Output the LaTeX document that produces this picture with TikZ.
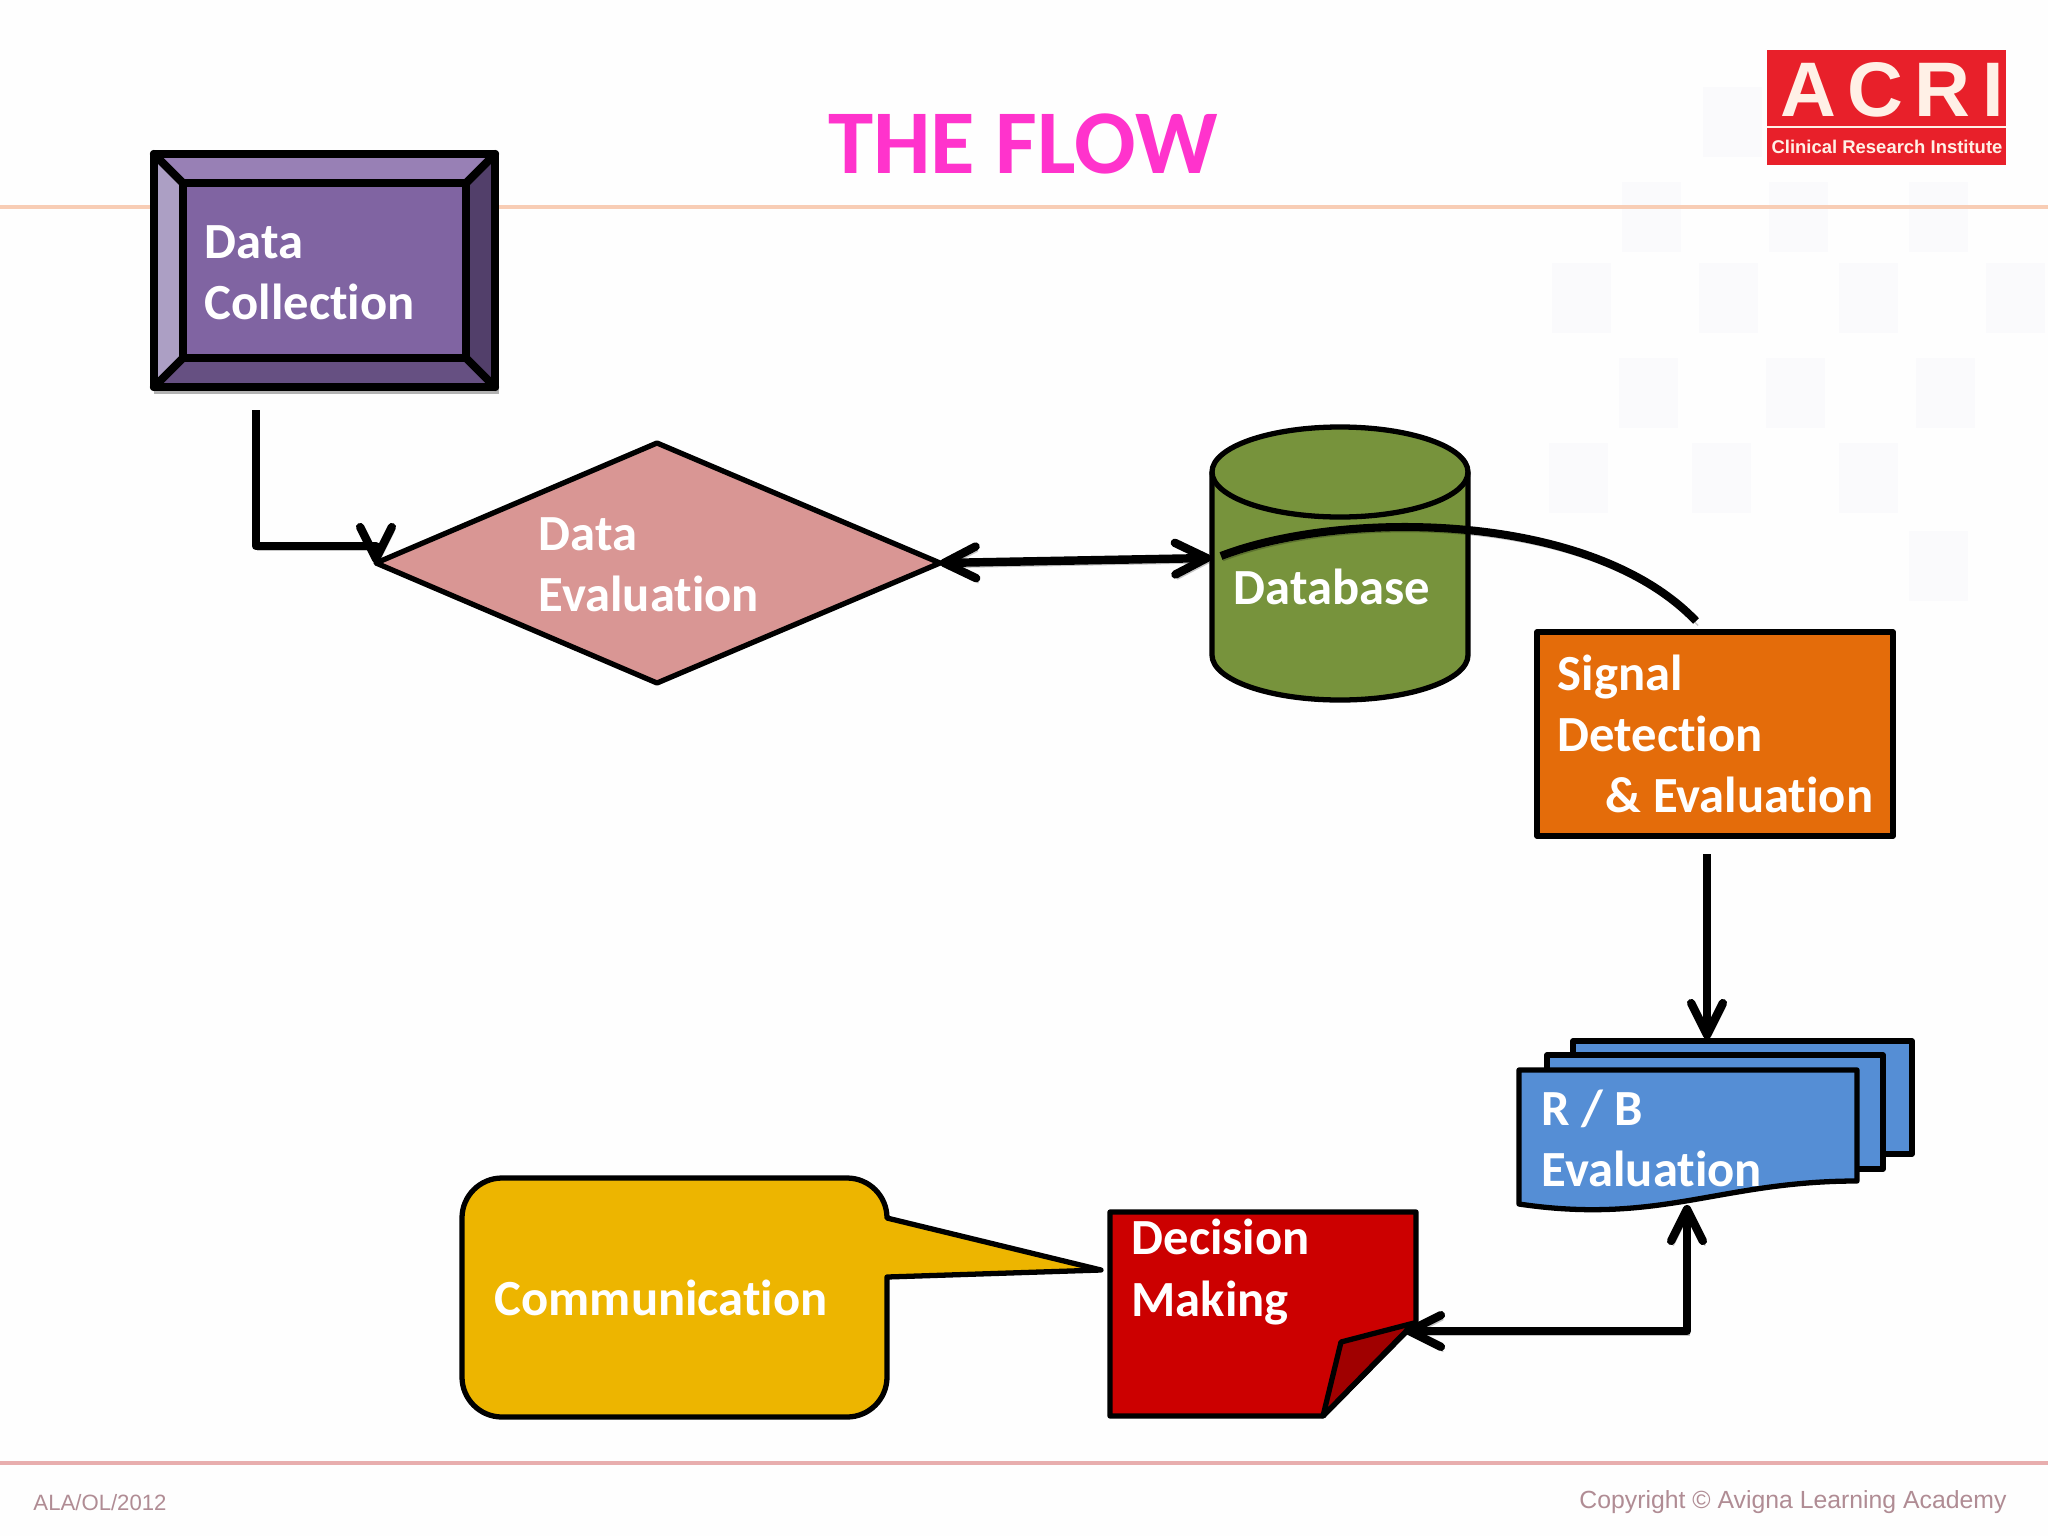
\documentclass[tikz,border=0pt]{standalone}
\usepackage{fontspec}
\setmainfont[Ligatures=NoCommon]{Carlito}
\newfontfamily\logofont{Liberation Sans}
\usetikzlibrary{shapes.geometric, arrows.meta, positioning, calc}
\definecolor{Slide_White}{HTML}{FEFEFE}
\definecolor{Check_Grey}{HTML}{FAFAFC}
\definecolor{Rule_Orange}{HTML}{F8CDB5}
\definecolor{Rule_Pink}{HTML}{E8AEAE}
\definecolor{Foot_Grey}{HTML}{B08C94}
\definecolor{Title_Pink}{HTML}{FF33CC}
\definecolor{ACRI_Red}{HTML}{E8202A}
\definecolor{ACRI_Cream}{HTML}{FFF0E6}
\definecolor{Bevel_Face}{HTML}{8064A2}
\definecolor{Bevel_Top}{HTML}{9880B5}
\definecolor{Bevel_Left}{HTML}{AC9FC4}
\definecolor{Bevel_Right}{HTML}{523F6A}
\definecolor{Bevel_Bottom}{HTML}{665082}
\definecolor{Eval_Pink}{HTML}{D99694}
\definecolor{Base_Green}{HTML}{77933C}
\definecolor{Signal_Orange}{HTML}{E46C0A}
\definecolor{Sheet_Blue}{HTML}{558ED5}
\definecolor{Note_Red}{HTML}{CC0000}
\definecolor{Fold_Red}{HTML}{A00000}
\definecolor{Talk_Gold}{HTML}{EDB500}

\begin{document}
\begin{tikzpicture}[x=0.01cm, y=-0.01cm,
    lbl/.style={anchor=west, align=left, text=white, inner sep=0pt,
        font=\fontsize{14.4}{17.4}\selectfont\bfseries},
    shapeline/.style={draw=black, line width=1.5pt, line join=round, inner sep=0pt},
    bevelline/.style={draw=black, line width=2.3pt, line join=round, line cap=round, inner sep=0pt, outer sep=0pt},
    conn/.style={draw=black, line width=2.4pt, line join=round,
        >={Straight Barb[round, length=9pt, width=9pt]},
        preaction={draw=black, draw opacity=0.22, transform canvas={shift={(0.6pt,-1.3pt)}}}}]

    \useasboundingbox (0,0) rectangle (2048,1536);
    \fill[Slide_White] (0,0) rectangle (2048,1536);

    % === Faint checks behind the slide ===
    \foreach \cx/\cy in {1703/87, 1622/182, 1769/182, 1909/182, 1552/263, 1699/263, 1839/263,
        1986/263, 1619/358, 1766/358, 1916/358, 1549/443, 1692/443, 1839/443, 1909/531}
        \fill[Check_Grey] (\cx,\cy) rectangle ++(59,70);

    % === Header and footer ===
    \draw[Rule_Orange, line width=1.1pt] (0,207) -- (2048,207);
    \draw[Rule_Pink, line width=1.1pt] (0,1463) -- (2048,1463);
    \node[font=\fontsize{25.9}{30}\selectfont\bfseries, text=Title_Pink] (title) at (1023,144) {THE FLOW};
    \node[font=\logofont\fontsize{6.3}{8}\selectfont, text=Foot_Grey] (footleft) at (100,1503) {ALA/OL/2012};
    \node[font=\logofont\fontsize{7.05}{8}\selectfont, text=Foot_Grey] (footright) at (1793,1502) {Copyright © Avigna Learning Academy};

    % Logo
    \fill[ACRI_Red] (1767,50) rectangle (2006,165);
    \draw[ACRI_Cream, line width=0.8pt] (1767,127) -- (2006,127);
    \node[font=\logofont\fontsize{22}{24}\selectfont\bfseries, text=ACRI_Cream] (acri) at (1892,90)
        {\addfontfeature{LetterSpace=15}ACRI};
    \node[font=\logofont\fontsize{5.25}{6}\selectfont\bfseries, text=ACRI_Cream] (acrisub) at (1887,147)
        {Clinical Research Institute};

    % === Data Collection ===
    \fill[black!30] (154,158) rectangle (499,394);
    \fill[Bevel_Top] (154,154) -- (495,154) -- (466,183) -- (183,183) -- cycle;
    \fill[Bevel_Left] (154,154) -- (183,183) -- (183,358) -- (154,387) -- cycle;
    \fill[Bevel_Right] (495,154) -- (466,183) -- (466,358) -- (495,387) -- cycle;
    \fill[Bevel_Bottom] (154,387) -- (183,358) -- (466,358) -- (495,387) -- cycle;
    \node[bevelline, minimum width=3.41cm, minimum height=2.33cm] (collect) at (324.5,270.5) {};
    \node[bevelline, fill=Bevel_Face, minimum width=2.83cm, minimum height=1.75cm] (collectface) at (324.5,270.5) {};
    \draw[bevelline] (collect.north west) -- (collectface.north west);
    \draw[bevelline] (collect.north east) -- (collectface.north east);
    \draw[bevelline] (collect.south west) -- (collectface.south west);
    \draw[bevelline] (collect.south east) -- (collectface.south east);
    \node[lbl] (collecttext) at (204,273) {Data\\Collection};

    % === Data Evaluation ===
    \draw[shapeline, fill=Eval_Pink] (376,563) coordinate (evalw) -- (657,443)
        -- (940,563) coordinate (evale) -- (657,683) -- cycle;
    \node[lbl] (evaltext) at (538,565) {Data\\Evaluation};

    % === Database ===
    \draw[shapeline, fill=Base_Green] (1212,472) arc[start angle=180, end angle=360, x radius=128, y radius=45]
        -- (1468,655) arc[start angle=0, end angle=180, x radius=128, y radius=45] -- cycle;
    \draw[shapeline] (1212,472) arc[start angle=180, end angle=0, x radius=128, y radius=45];
    \node[lbl] (basetext) at (1233,587) {Database};
    \coordinate (basew) at (1211,558);
    \coordinate (basecurve) at (1221,556);

    % === Signal Detection ===
    \node[shapeline, fill=Signal_Orange, minimum width=3.56cm, minimum height=2.04cm] (signal) at (1715,734) {};
    \node[lbl] (signaltext) at (1557,734) {Signal\\Detection\\\hspace*{13.7pt}\& Evaluation};
    \coordinate (signaltop) at (1696,621);
    \coordinate (signalout) at (1707,854);

    % === R / B Evaluation ===
    \draw[shapeline, fill=Sheet_Blue] (1573,1041) -- (1912,1041) -- (1912,1154) -- (1573,1154) -- cycle;
    \draw[shapeline, fill=Sheet_Blue] (1547,1055) -- (1883,1055) -- (1883,1169) -- (1547,1169) -- cycle;
    \draw[shapeline, fill=Sheet_Blue] (1519,1070) -- (1857,1070) -- (1857,1181)
        .. controls (1720,1181) and (1660,1225) .. (1519,1204) -- cycle;
    \node[lbl] (sheettext) at (1541,1138) {R / B\\Evaluation};
    \coordinate (sheettop) at (1707,1039);
    \coordinate (sheetbottom) at (1687,1205);

    % === Decision Making ===
    \draw[shapeline, fill=Note_Red] (1110,1212) -- (1416,1212) -- (1416,1322) -- (1323,1416) -- (1110,1416) -- cycle;
    \draw[shapeline, fill=Fold_Red] (1323,1416) -- (1341,1342) -- (1414,1323) -- cycle;
    \node[lbl] (notetext) at (1131,1272) {Decision\\Making};
    \coordinate (notefold) at (1405,1331);

    % === Communication ===
    \draw[shapeline, fill=Talk_Gold] (502,1178) -- (847,1178) arc[start angle=-90, end angle=0, radius=40]
        -- (1101,1270) -- (887,1277) -- (887,1377) arc[start angle=0, end angle=90, radius=40]
        -- (502,1417) arc[start angle=90, end angle=180, radius=40]
        -- (462,1218) arc[start angle=180, end angle=270, radius=40] -- cycle;
    \node[lbl] (talktext) at (494,1298) {Communication};

    % === Connectors ===
    \coordinate (collectout) at (256,410);
    \coordinate (evalbend) at (376,546);
    \coordinate (sheetbend) at (1687,1331);
    \draw[conn, -{>[quick]}] (collectout) |- (evalbend) -- (evalw);
    \draw[conn, <->] (evale) -- (basew);
    \draw[conn, line width=2.3pt] (basecurve) .. controls (1340,510) and (1590,510) .. (signaltop);
    \draw[conn, ->] (signalout) -- (sheettop);
    \draw[conn, <->] (notefold) -- (sheetbend) -- (sheetbottom);

\end{tikzpicture}
\end{document}
